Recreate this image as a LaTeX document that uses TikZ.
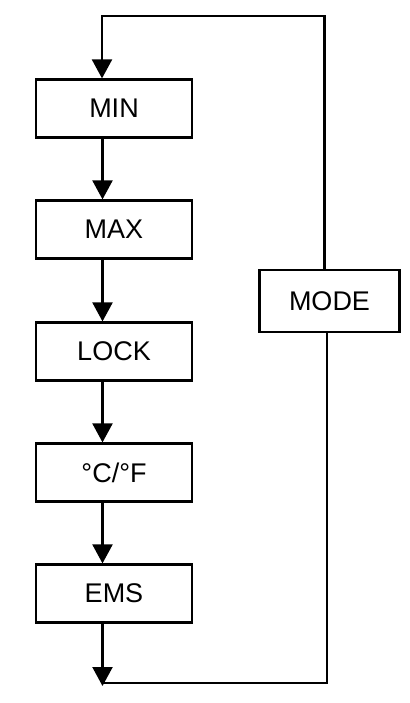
\documentclass[tikz,border=0pt]{standalone}
\usepackage{fontspec}
\setmainfont{Liberation Sans}
\usetikzlibrary{arrows.meta}
\tikzset{
  box/.style={draw, line width=2.2pt, inner sep=0pt, minimum width=156pt, minimum height=58pt,
    font=\fontsize{27}{32}\selectfont},
  wire/.style={line width=2.2pt},
  arr/.style={wire, -{Triangle[width=20pt,length=19pt]}}
}
\begin{document}
\begin{tikzpicture}[x=1pt,y=-1pt]
\useasboundingbox (0,0) rectangle (409,703);
\node[box] (min)  at (114,108.5) {MIN};
\node[box] (max)  at (114,229.5) {MAX};
\node[box] (lock) at (114,351.5) {LOCK};
\node[box] (cf)   at (114,472.5) {°C/°F};
\node[box] (ems)  at (114,593.5) {EMS};
\node[box, minimum width=140pt, minimum height=62pt] (mode) at (329.5,301) {MODE};
\coordinate (tl) at (102,16);
\coordinate (tr) at (324.5,16);
\coordinate (bl) at (102.5,683);
\coordinate (br) at (327,683);
\coordinate (ax) at (102.5,0);
\draw[arr] (min.south -| ax) -- (max.north -| ax);
\draw[arr] (max.south -| ax) -- (lock.north -| ax);
\draw[arr] (lock.south -| ax) -- (cf.north -| ax);
\draw[arr] (cf.south -| ax) -- (ems.north -| ax);
\draw[arr] (mode.north -| tr) -- (tr) -- (tl) -- (min.north -| tl);
\draw[wire] (mode.south -| br) -- (br) -- (bl);
\draw[arr] (ems.south -| bl) -- ([yshift=-3pt]bl);
\end{tikzpicture}
\end{document}
